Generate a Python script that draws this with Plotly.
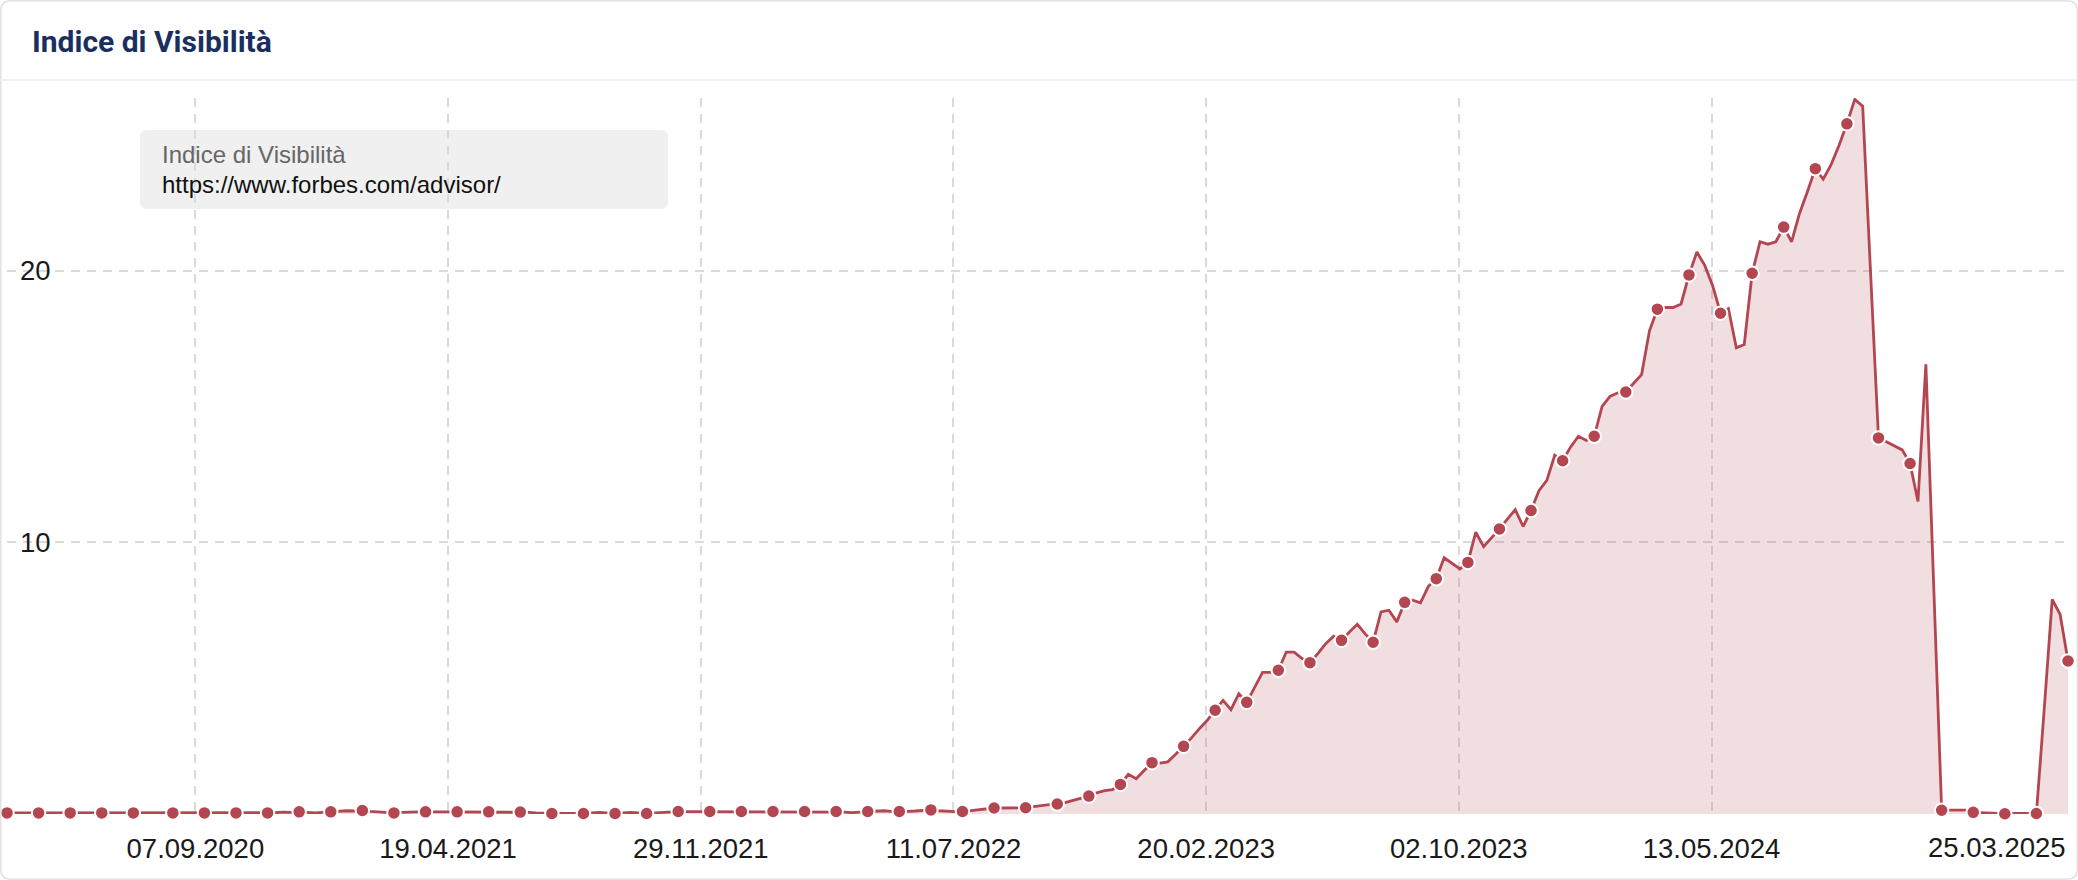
import plotly.graph_objects as go
import pandas as pd

# ---------------- data ----------------
values = (
    [0.04] * 34 +
    [0.05, 0.07, 0.06, 0.08, 0.05, 0.04, 0.06, 0.08, 0.10, 0.12,
     0.11, 0.13, 0.10, 0.08, 0.05, 0.04, 0.06, 0.08, 0.08, 0.08,
     0.07, 0.08, 0.08, 0.08, 0.08, 0.07, 0.08, 0.08, 0.08, 0.08,
     0.07, 0.07, 0.06, 0.04, 0.03, 0.02, 0.02, 0.02, 0.02, 0.02,
     0.04, 0.06, 0.04, 0.02, 0.04, 0.06, 0.04, 0.02, 0.04, 0.06,
     0.08, 0.09] +
    [0.09] * 19 +
    [0.09, 0.07, 0.05, 0.07, 0.09, 0.11, 0.12, 0.10, 0.09, 0.10,
     0.11, 0.13, 0.15, 0.12, 0.10, 0.09, 0.09, 0.12, 0.16, 0.19,
     0.22, 0.22, 0.23, 0.23, 0.23, 0.27, 0.31, 0.34, 0.37, 0.42,
     0.50, 0.58, 0.66, 0.78, 0.86, 0.90, 1.09, 1.46, 1.30, 1.60,
     1.89, 1.87, 1.92, 2.20, 2.49, 2.80, 3.14, 3.45, 3.82, 4.18,
     3.84, 4.43, 4.11, 4.67, 5.21, 5.21, 5.29, 5.96, 5.96, 5.72,
     5.57, 5.90, 6.27, 6.54, 6.39, 6.70, 6.98, 6.63, 6.32, 7.44,
     7.50, 7.07, 7.79, 7.87, 7.77, 8.38, 8.66, 9.43, 9.22, 9.02,
     9.26, 10.37, 9.84, 10.15, 10.49, 10.85, 11.20, 10.58, 11.17, 11.90,
     12.28, 13.20, 13.00, 13.50, 13.90, 13.75, 13.90, 15.00, 15.37, 15.50,
     15.53, 15.85, 16.17, 17.78, 18.58, 18.64, 18.64, 18.77, 19.84, 20.68,
     20.19, 19.44, 18.43, 18.60, 17.16, 17.28, 19.90, 21.06, 20.97, 21.06,
     21.60, 21.06, 22.10, 22.90, 23.75, 23.36, 23.90, 24.60, 25.40, 26.30,
     26.05, 19.90, 13.84, 13.70, 13.55, 13.40, 12.90, 11.50, 16.55, 8.30,
     0.14, 0.14, 0.14, 0.14, 0.06, 0.05, 0.02, 0.02, 0.01, 0.02,
     0.02, 0.02, 0.02, 3.90, 7.90, 7.35, 5.63]
)
dates = pd.date_range("2020-03-24", periods=len(values), freq="7D")

tick_dates = ["2020-09-07", "2021-04-19", "2021-11-29", "2022-07-11",
              "2023-02-20", "2023-10-02", "2024-05-13", "2025-03-25"]
tick_labels = ["07.09.2020", "19.04.2021", "29.11.2021", "11.07.2022",
               "20.02.2023", "02.10.2023", "13.05.2024", "25.03.2025"]

y_ticks = [10, 20]
series_title = "Indice di Visibilità"
series_url = "https://www.forbes.com/advisor/"

marked = [0, 4, 8, 12, 16] + list(range(21, len(values), 4))

# ---------------- layout helpers ----------------
W, H = 2078, 880
ML, MR, MT, MB = 7, 10, 98, 66
PW, PH = W - ML - MR, H - MT - MB


def px_x(px):
    return (px - ML) / PW


def px_y(py):
    return (H - MB - py) / PH


def rr_path(x0, y0, x1, y1, r):
    f = lambda x, y: f"{x},{-y}"
    return (f"M{f(x0 + r, y0)} L{f(x1 - r, y0)} Q{f(x1, y0)} {f(x1, y0 + r)} "
            f"L{f(x1, y1 - r)} Q{f(x1, y1)} {f(x1 - r, y1)} L{f(x0 + r, y1)} "
            f"Q{f(x0, y1)} {f(x0, y1 - r)} L{f(x0, y0 + r)} Q{f(x0, y0)} {f(x0 + r, y0)} Z")


LINE = "#b34651"
FILL = "rgba(179,70,81,0.18)"
AXFONT = dict(family="Liberation Sans, Arial, sans-serif", size=27.5, color="#1a1a1a")
GRID = dict(showgrid=True, gridcolor="#dadada", griddash="9px,7px", gridwidth=1.5)

fig = go.Figure()
fig.add_trace(go.Scatter(
    x=dates, y=values, mode="lines",
    line=dict(color=LINE, width=2.8, shape="linear"),
    fill="tozeroy", fillcolor=FILL, hoverinfo="skip", cliponaxis=False,
))
fig.add_trace(go.Scatter(
    x=[dates[i] for i in marked], y=[values[i] for i in marked], mode="markers",
    marker=dict(color=LINE, size=13.5, line=dict(color="white", width=2)),
    cliponaxis=False,
))

fig.update_layout(
    width=W, height=H,
    margin=dict(l=ML, r=MR, t=MT, b=MB),
    paper_bgcolor="white", plot_bgcolor="rgba(0,0,0,0)",
    showlegend=False,
    title=dict(text="<b>Indice di Visibilità</b>",
               font=dict(family="Roboto, sans-serif", size=30, color="#1b2f5f"),
               x=32 / W, xref="container", xanchor="left",
               y=1 - 41 / H, yref="container", yanchor="middle"),
    xaxis=dict(type="date", range=[dates[0], dates[-1]],
               tickmode="array", tickvals=tick_dates,
               ticktext=tick_labels[:-1] + [""],
               ticks="", showline=False, zeroline=False,
               tickfont=AXFONT, ticklabelstandoff=15, **GRID),
    yaxis=dict(range=[0, 26.35], tickmode="array", tickvals=y_ticks,
               ticks="", showline=False, zeroline=False,
               ticklabelposition="inside", ticklabelstandoff=10,
               tickfont=AXFONT, **GRID),
)

shapes = [
    dict(type="path", xref="paper", yref="paper", xsizemode="pixel", ysizemode="pixel",
         xanchor=px_x(0), yanchor=px_y(0), path=rr_path(0.75, 0.75, W - 0.75, H - 0.75, 10),
         line=dict(color="#e2e2e2", width=1.5), fillcolor="rgba(0,0,0,0)", layer="above"),
    dict(type="line", xref="paper", yref="paper", x0=px_x(0), x1=px_x(W),
         y0=px_y(80), y1=px_y(80), line=dict(color="#ebebeb", width=1.5), layer="above"),
    dict(type="path", xref="paper", yref="paper", xsizemode="pixel", ysizemode="pixel",
         xanchor=px_x(0), yanchor=px_y(0), path=rr_path(140, 130, 668, 209, 7),
         line=dict(width=0), fillcolor="#f0f0f0", layer="below"),
]
fig.update_layout(shapes=shapes)

LEGFONT = "Liberation Sans, Arial, sans-serif"
annotations = [
    dict(text=series_title, xref="paper", yref="paper", x=px_x(160), y=px_y(154),
         xanchor="left", yanchor="middle", showarrow=False,
         font=dict(family=LEGFONT, size=24, color="#666666")),
    dict(text=series_url, xref="paper", yref="paper", x=px_x(160), y=px_y(185),
         xanchor="left", yanchor="middle", showarrow=False,
         font=dict(family=LEGFONT, size=24, color="#111111")),
    dict(text=tick_labels[-1], xref="x", yref="paper", x=tick_dates[-1], y=0,
         xanchor="right", yanchor="middle", yshift=-33, showarrow=False, font=AXFONT),
]
fig.update_layout(annotations=annotations)

fig.write_html("out.html",
               config={"displayModeBar": False},
               post_script="document.body.style.margin='0';document.body.style.overflow='hidden';")
